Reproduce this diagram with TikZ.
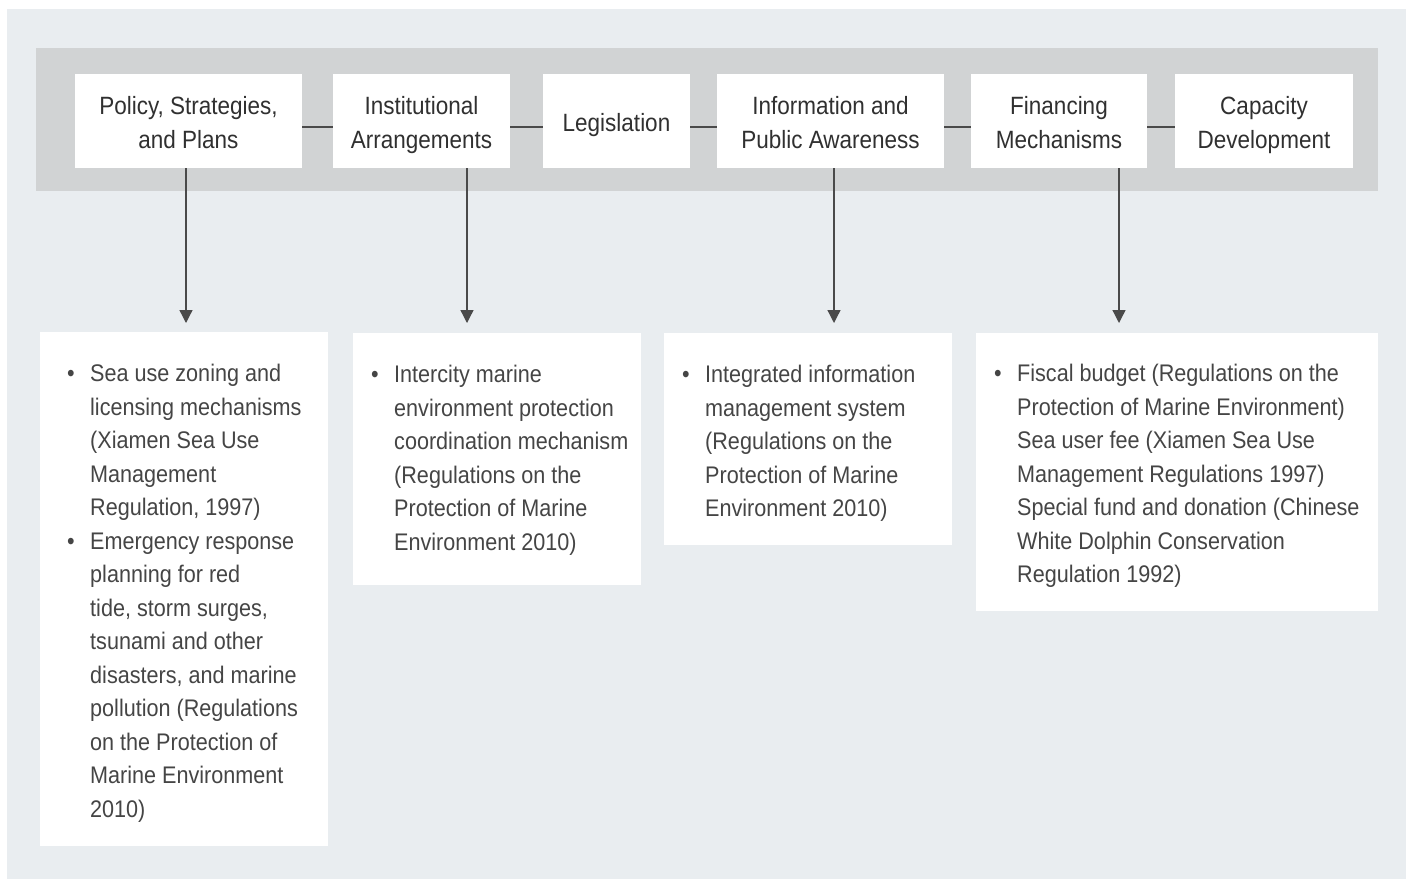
\documentclass[tikz,border=0pt]{standalone}
\usepackage{fontspec}
\setmainfont{Liberation Sans}
\newfontfamily\headfont{Liberation Sans}[FakeStretch=0.9]
\newfontfamily\bodyfont{Liberation Sans}[FakeStretch=0.9]
\usetikzlibrary{arrows.meta}
\definecolor{bgcol}{HTML}{E9EDF0}
\definecolor{bandcol}{HTML}{D1D3D4}
\definecolor{linecol}{HTML}{4A4A4A}
\definecolor{headtxt}{HTML}{303030}
\definecolor{bodytxt}{HTML}{454545}
\newcommand{\bul}{\makebox[23pt][l]{\textbullet}}
\newcommand{\ind}{\hspace*{23pt}}
\newcommand{\hd}[1]{\raisebox{0pt}[\dimexpr\height+8pt\relax][\depth]{\begin{tabular}{@{}c@{}}#1\end{tabular}}}
\begin{document}
\begin{tikzpicture}[x=1pt, y=-1pt, line join=round,
	head/.style={fill=white, minimum height=94pt, inner sep=0pt, text=headtxt,
		font=\headfont\fontsize{25}{34}\selectfont},
	panel/.style={fill=white, inner sep=0pt, anchor=north west},
	body/.style={anchor=north west, inner sep=0pt, align=left, text=bodytxt,
		font=\bodyfont\fontsize{24}{33.5}\selectfont},
	link/.style={draw=linecol, line width=1.3pt},
	arr/.style={draw=linecol, line width=1.3pt, -{Triangle[width=13pt,length=13pt]}}]
		\useasboundingbox (0,0) rectangle (1408,879);
		\fill[bgcol] (7,9) rectangle (1406,879);
		\fill[bandcol] (36,48) rectangle (1378,191);
		% top row
		\node[head, minimum width=227pt] (pol) at (188.5,121) {\hd{Policy, Strategies,\\and Plans}};
		\node[head, minimum width=177pt] (inst) at (421.5,121) {\hd{Institutional\\Arrangements}};
		\node[head, minimum width=147pt] (leg) at (616.5,121) {\hd{Legislation}};
		\node[head, minimum width=227pt] (info) at (830.5,121) {\hd{Information and\\Public Awareness}};
		\node[head, minimum width=176pt] (fin) at (1059,121) {\hd{Financing\\Mechanisms}};
		\node[head, minimum width=178pt] (cap) at (1264,121) {\hd{Capacity\\Development}};
		\draw[link] ([yshift=-6pt]pol.east) -- ([yshift=-6pt]inst.west);
		\draw[link] ([yshift=-6pt]inst.east) -- ([yshift=-6pt]leg.west);
		\draw[link] ([yshift=-6pt]leg.east) -- ([yshift=-6pt]info.west);
		\draw[link] ([yshift=-6pt]info.east) -- ([yshift=-6pt]fin.west);
		\draw[link] ([yshift=-6pt]fin.east) -- ([yshift=-6pt]cap.west);
		% panels
		\node[panel, minimum width=288pt, minimum height=514pt] (p1) at (40,332) {};
		\node[panel, minimum width=288pt, minimum height=252pt] (p2) at (353,333) {};
		\node[panel, minimum width=288pt, minimum height=212pt] (p3) at (664,333) {};
		\node[panel, minimum width=402pt, minimum height=278pt] (p4) at (976,333) {};
		\coordinate (a1) at (186,323);
		\coordinate (a2) at (467,323);
		\coordinate (a3) at (834,323);
		\coordinate (a4) at (1119,323);
		\draw[arr] (pol.south -| a1) -- (a1);
		\draw[arr] (inst.south -| a2) -- (a2);
		\draw[arr] (info.south -| a3) -- (a3);
		\draw[arr] (fin.south -| a4) -- (a4);
		% panel texts
		\node[body] (t1) at (67,364) {\bul Sea use zoning and\\\ind licensing mechanisms\\\ind (Xiamen Sea Use\\\ind Management\\\ind Regulation, 1997)\\\bul Emergency response\\\ind planning for red\\\ind tide, storm surges,\\\ind tsunami and other\\\ind disasters, and marine\\\ind pollution (Regulations\\\ind on the Protection of\\\ind Marine Environment\\\ind 2010)};
		\node[body] (t2) at (371,365) {\bul Intercity marine\\\ind environment protection\\\ind coordination mechanism\\\ind (Regulations on the\\\ind Protection of Marine\\\ind Environment 2010)};
		\node[body] (t3) at (682,365) {\bul Integrated information\\\ind management system\\\ind (Regulations on the\\\ind Protection of Marine\\\ind Environment 2010)};
		\node[body] (t4) at (994,364) {\bul Fiscal budget (Regulations on the\\\ind Protection of Marine Environment)\\\ind Sea user fee (Xiamen Sea Use\\\ind Management Regulations 1997)\\\ind Special fund and donation (Chinese\\\ind White Dolphin Conservation\\\ind Regulation 1992)};
\end{tikzpicture}
\end{document}
